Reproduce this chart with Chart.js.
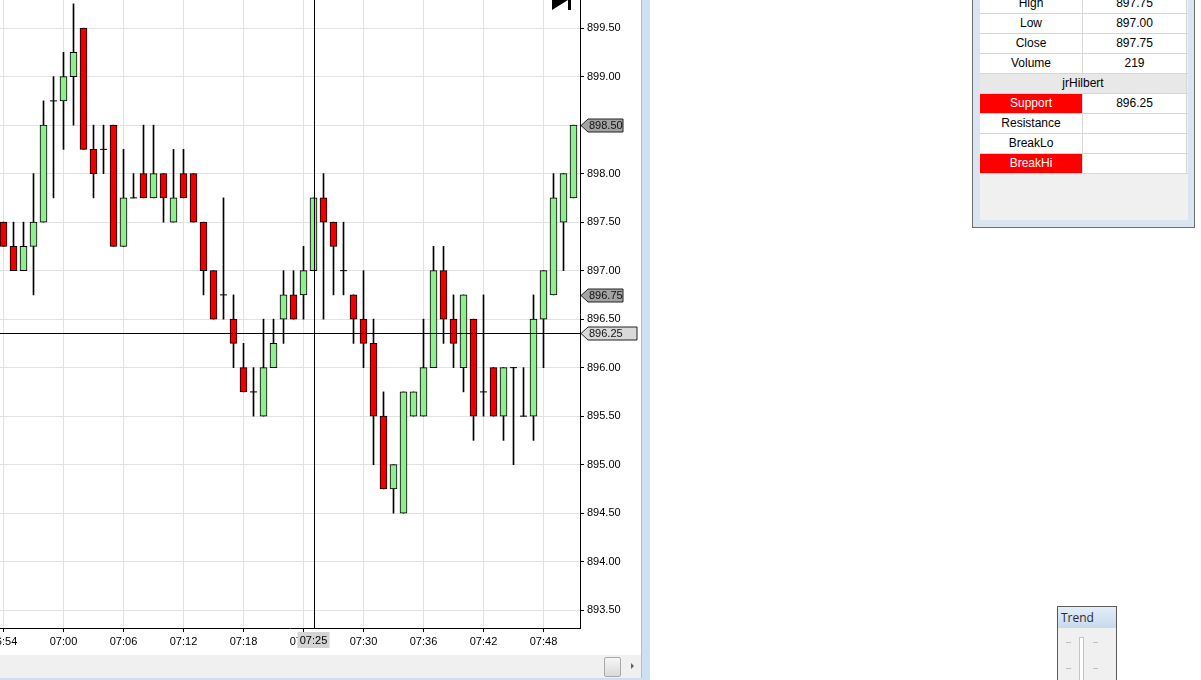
<!DOCTYPE html>
<html>
<head>
<meta charset="utf-8">
<script src="https://cdn.jsdelivr.net/npm/chart.js@4.4.0/dist/chart.umd.min.js"></script>
<style>
  html, body { margin:0; padding:0; }
  body { width:1201px; height:680px; overflow:hidden; position:relative; background:#fff;
         font-family:"Liberation Sans", Arial, sans-serif; }
  #grafWrap { position:absolute; left:-40px; top:-20px; width:680px; height:675px; }
  .skrol { position:absolute; left:0; top:655px; width:641px; height:23px; background:#f0f0f0; }
  .klizac { position:absolute; left:604px; top:2px; width:15px; height:18px; border:1px solid #a8a8a8;
            border-radius:2px; background:linear-gradient(#f6f6f6, #dadada); }
  .strelica { position:absolute; left:631px; top:8px; width:0; height:0;
              border-top:3px solid transparent; border-bottom:3px solid transparent; border-left:3px solid #606060; }
  .ivicaDesno { position:absolute; left:641px; top:0; width:8px; height:680px; background:#cddff1;
                border-left:1px solid #a9bfd8; }
  .ivicaDole { position:absolute; left:0; top:678px; width:650px; height:2px; background:#cddff1; }

  .podaci { position:absolute; left:972px; top:-7px; width:221px; height:233px; border:1px solid #6e6e6e;
            background:#dbe5f1; }
  .panel { position:absolute; left:7px; top:0; width:208px; height:226px; background:#f0f0f0; }
  .red { display:flex; height:20px; box-sizing:border-box; border-bottom:1px solid #d6d6d6; }
  .red div { box-sizing:border-box; height:19px; line-height:19px; text-align:center; font-size:12px;
             color:#000; background:#fff; border-right:1px solid #d6d6d6; }
  .red .a { width:103px; }
  .red .b { width:104px; }
  .red .naslov { width:207px; background:#e8e8e8; }
  .red .crveno { background:#ff0000; color:#fff; }

  .trend { position:absolute; left:1057px; top:606px; width:58px; height:80px; border:1px solid #5a5a5a;
           background:#f0f0f0; }
  .trend .zag { height:21px; line-height:21px; padding-left:3px; font-size:12px; color:#2b2b2b;
                background:linear-gradient(#e4edf8, #c8d9ed); font-family:"Open Sans", sans-serif; }
  .trend .staza { position:absolute; left:21px; top:30px; width:3px; height:60px; border:1px solid #c4c4c4;
                  background:#fff; }
  .trend .crta { position:absolute; width:5px; height:1px; background:#c0c0c0; }
</style>
</head>
<body>

<div id="grafWrap"><canvas id="graf" width="680" height="675"></canvas></div>

<div class="skrol"><div class="klizac"></div><div class="strelica"></div></div>
<div class="ivicaDesno"></div>
<div class="ivicaDole"></div>

<div class="podaci">
  <div class="panel">
    <div class="red"><div class="a">High</div><div class="b">897.75</div></div>
    <div class="red"><div class="a">Low</div><div class="b">897.00</div></div>
    <div class="red"><div class="a">Close</div><div class="b">897.75</div></div>
    <div class="red"><div class="a">Volume</div><div class="b">219</div></div>
    <div class="red"><div class="naslov">jrHilbert</div></div>
    <div class="red"><div class="a crveno">Support</div><div class="b">896.25</div></div>
    <div class="red"><div class="a">Resistance</div><div class="b"></div></div>
    <div class="red"><div class="a">BreakLo</div><div class="b"></div></div>
    <div class="red"><div class="a crveno">BreakHi</div><div class="b"></div></div>
  </div>
</div>

<div class="trend">
  <div class="zag">Trend</div>
  <div class="staza"></div>
  <div class="crta" style="left:8px;top:35px"></div>
  <div class="crta" style="left:35px;top:35px"></div>
  <div class="crta" style="left:8px;top:61px"></div>
  <div class="crta" style="left:35px;top:61px"></div>
</div>

<script>
// minutne svece
const vremena = ['06:54','06:55','06:56','06:57','06:58','06:59','07:00','07:01','07:02','07:03',
                 '07:04','07:05','07:06','07:07','07:08','07:09','07:10','07:11','07:12','07:13',
                 '07:14','07:15','07:16','07:17','07:18','07:19','07:20','07:21','07:22','07:23',
                 '07:24','07:25','07:26','07:27','07:28','07:29','07:30','07:31','07:32','07:33',
                 '07:34','07:35','07:36','07:37','07:38','07:39','07:40','07:41','07:42','07:43',
                 '07:44','07:45','07:46','07:47','07:48','07:49','07:50','07:51'];

const otvaranje = [897.50,897.25,897.00,897.25,897.50,898.75,898.75,899.00,899.50,898.25,
                   898.25,898.50,897.25,897.75,898.00,897.75,898.00,897.50,898.00,898.00,
                   897.50,897.00,896.75,896.50,896.00,895.75,895.50,896.00,896.50,896.75,
                   896.75,897.00,897.75,897.50,897.00,896.75,896.50,896.25,895.50,894.75,
                   894.50,895.50,895.50,896.00,897.00,896.50,896.00,896.50,895.75,896.00,
                   895.50,896.00,895.50,895.50,896.50,896.75,897.50,897.75];

const najvisa = [897.50,897.50,897.50,898.00,898.75,899.00,899.25,899.75,899.50,898.50,
                 898.50,898.50,898.25,898.00,898.50,898.50,898.00,898.25,898.25,898.00,
                 897.50,897.00,897.75,896.75,896.25,896.00,896.50,896.50,897.00,897.00,
                 897.25,897.75,898.00,897.50,897.50,896.75,897.00,896.50,895.75,895.00,
                 895.75,895.75,896.50,897.25,897.25,896.75,896.75,896.50,896.75,896.00,
                 896.00,896.00,896.00,896.75,897.00,898.00,898.00,898.50];

const najniza = [897.25,897.00,897.00,896.75,897.50,897.75,898.25,898.50,898.25,897.75,
                 898.00,897.25,897.25,897.75,897.75,897.75,897.50,897.50,897.75,897.50,
                 896.75,896.50,896.50,896.00,895.75,895.50,895.50,896.00,896.25,896.50,
                 896.50,897.00,896.50,896.75,896.75,896.25,896.00,895.00,894.75,894.50,
                 894.50,895.50,895.50,896.00,896.25,896.00,895.75,895.25,895.50,895.50,
                 895.25,895.00,895.50,895.25,896.00,896.75,897.00,897.75];

const zatvaranje = [897.25,897.00,897.25,897.50,898.50,898.75,899.00,899.25,898.25,898.00,
                    898.25,897.25,897.75,897.75,897.75,898.00,897.75,897.75,897.75,897.50,
                    897.00,896.50,896.75,896.25,895.75,895.75,896.00,896.25,896.75,896.50,
                    897.00,897.75,897.50,897.25,897.00,896.50,896.25,895.50,894.75,895.00,
                    895.75,895.75,896.00,897.00,896.50,896.25,896.75,895.50,895.75,895.50,
                    896.00,896.00,895.50,896.50,897.00,897.75,898.00,898.50];

// osne oznake
const tickoviX = ['06:54','07:00','07:06','07:12','07:18','07:24','07:30','07:36','07:42','07:48'];
const tickoviY = [893.50,894.00,894.50,895.00,895.50,896.00,896.50,897.00,897.50,898.00,898.50,899.00,899.50];

// oznake na desnoj osi i krstic
const oznakeCena = [898.50, 896.75];
const krstVreme = '07:25';
const krstCena = 896.36;
const krstTekst = '896.25';

function uMinute(t){
    let d = t.split(':');
    return (+d[0])*60 + (+d[1]) - 420;
}

let tela=[], bojeTela=[], fitilji=[], doji=[];
vremena.forEach((t,i)=>{
    let x = uMinute(t);
    let o = otvaranje[i], c = zatvaranje[i];
    if(najvisa[i] > najniza[i]) fitilji.push({x:x, y:[najniza[i], najvisa[i]]});
    if(o === c){
        doji.push({x:x, y:o});
    } else {
        tela.push({x:x, y:[o, c]});
        bojeTela.push(c > o ? '#90ee90' : '#ee0000');
    }
});

const font11 = {family:'"Liberation Sans", Arial, sans-serif', size:11};

const dodaci = {
    id:'dodaci',
    afterDraw(chart){
        const ctx = chart.ctx;
        const a = chart.chartArea;
        const sx = chart.scales.x, sy = chart.scales.y;
        ctx.save();

        // krstic
        let cx = Math.round(sx.getPixelForValue(uMinute(krstVreme))) + 0.5;
        let cy = Math.round(sy.getPixelForValue(krstCena)) + 0.5;
        ctx.strokeStyle='#000';
        ctx.lineWidth=1;
        ctx.beginPath();
        ctx.moveTo(cx, a.top); ctx.lineTo(cx, a.bottom);
        ctx.moveTo(a.left, cy); ctx.lineTo(a.right, cy);
        ctx.stroke();

        // zastavice na osi cena
        ctx.font = '11px "Liberation Sans", Arial, sans-serif';
        ctx.textBaseline='middle';
        const zastavica = (yc, w, boja)=>{
            let x0 = a.right + 1;
            ctx.beginPath();
            ctx.moveTo(x0, yc);
            ctx.lineTo(x0+7, yc-6.5);
            ctx.lineTo(x0+7+w, yc-6.5);
            ctx.lineTo(x0+7+w, yc+6.5);
            ctx.lineTo(x0+7, yc+6.5);
            ctx.closePath();
            ctx.fillStyle=boja;
            ctx.fill();
            ctx.strokeStyle='#222';
            ctx.stroke();
        };
        oznakeCena.forEach(p=>{
            let yc = Math.round(sy.getPixelForValue(p)) + 0.5;
            zastavica(yc, 35, '#a3a3a3');
            ctx.fillStyle='#111';
            ctx.textAlign='left';
            ctx.fillText(p.toFixed(2), a.right + 9, yc + 0.5);
        });
        zastavica(cy, 49, '#d9d9d9');
        ctx.fillStyle='#111';
        ctx.fillText(krstTekst, a.right + 9, cy + 0.5);

        // oznaka vremena
        ctx.fillStyle='#d4d4d4';
        ctx.fillRect(cx - 17, a.bottom + 4, 32, 16);
        ctx.fillStyle='#000';
        ctx.textAlign='center';
        ctx.fillText(krstVreme, cx - 1, a.bottom + 12.5);

        // dugme za kraj
        let bx = a.right - 28;
        ctx.fillStyle='#000';
        ctx.beginPath();
        ctx.moveTo(bx, a.top - 10);
        ctx.lineTo(bx + 16, a.top);
        ctx.lineTo(bx, a.top + 10);
        ctx.closePath();
        ctx.fill();
        ctx.fillRect(bx + 16, a.top - 10, 3, 20);

        ctx.restore();
    }
};

new Chart(document.getElementById('graf'), {
    type:'bar',
    data:{
        datasets:[
            {
                type:'scatter',
                data:doji,
                pointStyle:'line',
                radius:3.5,
                borderColor:'#000',
                borderWidth:1,
                order:1
            },
            {
                data:tela,
                backgroundColor:bojeTela,
                borderColor:'#000',
                borderWidth:1,
                borderSkipped:false,
                barThickness:7,
                grouped:false,
                order:2
            },
            {
                data:fitilji,
                backgroundColor:'#000',
                borderWidth:0,
                barThickness:1,
                grouped:false,
                order:3
            }
        ]
    },
    options:{
        responsive:false,
        animation:false,
        events:[],
        layout:{padding:{left:40, top:20, right:0, bottom:0}},
        plugins:{legend:{display:false}, tooltip:{enabled:false}},
        scales:{
            x:{
                type:'linear',
                position:'bottom',
                min:-6.35,
                max:51.65,
                offset:false,
                afterBuildTicks:s=>{ s.ticks = tickoviX.map(t=>({value:uMinute(t)})); },
                afterFit:s=>{ s.height = 27; },
                grid:{color:'#e2e2e2', tickColor:'#000', tickLength:4, offset:false},
                border:{color:'#000'},
                ticks:{color:'#000', font:font11, padding:3, maxRotation:0, autoSkip:false,
                       callback:(v,i)=>tickoviX[i]}
            },
            y:{
                position:'right',
                min:893.316,
                max:899.790,
                beginAtZero:false,
                afterBuildTicks:s=>{ s.ticks = tickoviY.map(v=>({value:v})); },
                afterFit:s=>{ s.width = 60; },
                grid:{color:'#e2e2e2', tickColor:'#000', tickLength:4},
                border:{color:'#000'},
                ticks:{color:'#000', font:font11, padding:3, callback:v=>v.toFixed(2)}
            }
        }
    },
    plugins:[dodaci]
});
</script>
</body>
</html>
